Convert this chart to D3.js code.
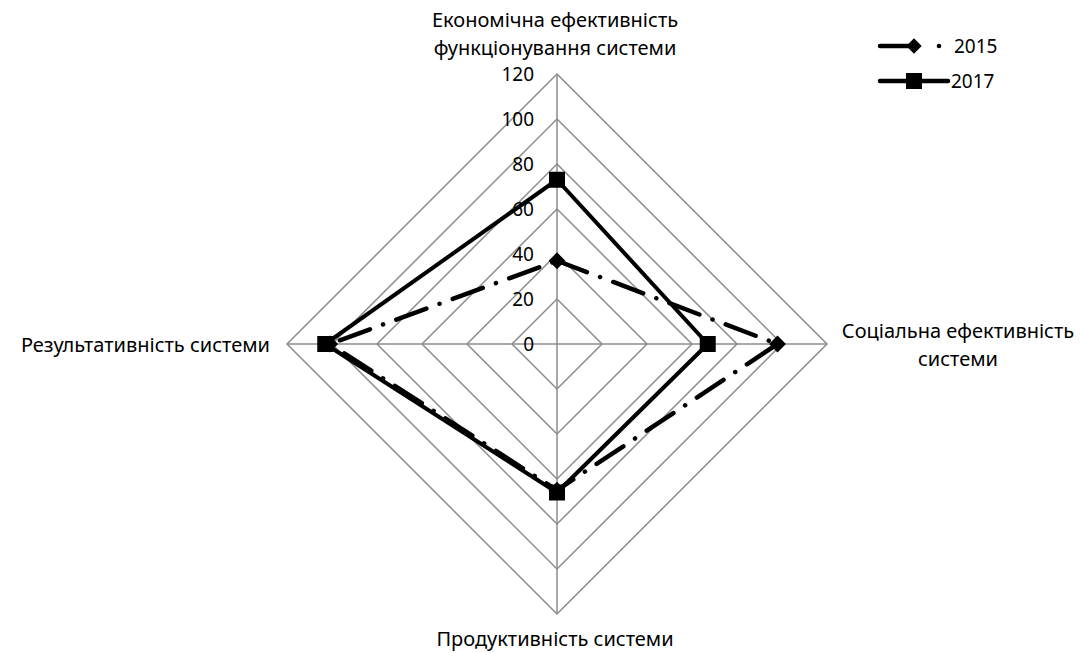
<!DOCTYPE html>
<html>
<head>
<meta charset="utf-8">
<script src="https://cdn.jsdelivr.net/npm/d3@7"></script>
<style>
  body { margin: 0; background: #fff; }
  text { font-family: "Noto Sans", "Open Sans", sans-serif; fill: #000; }
</style>
</head>
<body>
<div id="root"></div>
<script>
// axes of the radar, clockwise from the top
var axes = ["Економічна ефективність функціонування системи",
            "Соціальна ефективність системи",
            "Продуктивність системи",
            "Результативність системи"];
var series2015 = [37, 98, 65, 101];
var series2017 = [73, 67, 66, 103];
var ticks = [0, 20, 40, 60, 80, 100, 120];

var width = 1083, height = 653;
var cx = 557, cy = 344, radius = 270;

var svg = d3.select("#root").append("svg")
    .attr("width", width)
    .attr("height", height);

var r = d3.scaleLinear().domain([0, 120]).range([0, radius]);
var angle = d3.scaleLinear().domain([0, axes.length]).range([0, 2 * Math.PI]);

function pt(i, v) {
  var a = angle(i);
  return [cx + r(v) * Math.sin(a), cy - r(v) * Math.cos(a)];
}

var g = svg.append("g");

// grid rings
ticks.slice(1).forEach(function(t) {
  g.append("polygon")
    .attr("points", axes.map(function(d, i) { return pt(i, t).join(","); }).join(" "))
    .attr("fill", "none")
    .attr("stroke", "#8c8c8c")
    .attr("stroke-width", 1.5);
});

// spokes
axes.forEach(function(d, i) {
  var p = pt(i, 120);
  g.append("line")
    .attr("x1", cx).attr("y1", cy)
    .attr("x2", p[0]).attr("y2", p[1])
    .attr("stroke", "#8c8c8c")
    .attr("stroke-width", 1.5);
});

// tick labels
g.selectAll(".tick").data(ticks).enter().append("text")
  .attr("class", "tick")
  .attr("x", cx - 23)
  .attr("y", function(d) { return cy - r(d); })
  .attr("dy", "0.35em")
  .attr("text-anchor", "end")
  .style("font-size", "19px")
  .text(function(d) { return d; });

// axis labels
var labels = [
  {lines: ["Економічна ефективність", "функціонування системи"], x: 555, y: 20, anchor: "middle"},
  {lines: ["Соціальна ефективність", "системи"], x: 958, y: 331, anchor: "middle"},
  {lines: ["Продуктивність системи"], x: 555, y: 639, anchor: "middle"},
  {lines: ["Результативність системи"], x: 270, y: 345, anchor: "end"}
];
labels.forEach(function(l) {
  var t = svg.append("text")
    .attr("text-anchor", l.anchor)
    .style("font-size", "20px");
  l.lines.forEach(function(s, k) {
    t.append("tspan")
      .attr("x", l.x)
      .attr("y", l.y + k * 28)
      .attr("dy", "0.35em")
      .text(s);
  });
});

var line = d3.line().curve(d3.curveLinearClosed);

// 2015 series: long dash dot
svg.append("path")
  .attr("d", line(series2015.map(function(v, i) { return pt(i, v); })))
  .attr("fill", "none")
  .attr("stroke", "#000")
  .attr("stroke-width", 4.5)
  .attr("stroke-linecap", "round")
  .attr("stroke-dasharray", "32 14 0.1 14");

svg.selectAll(".m15").data(series2015).enter().append("path")
  .attr("class", "m15")
  .attr("transform", function(d, i) { return "translate(" + pt(i, d) + ")"; })
  .attr("d", d3.symbol().type(d3.symbolDiamond2).size(180))
  .attr("fill", "#000");

// 2017 series: solid
svg.append("path")
  .attr("d", line(series2017.map(function(v, i) { return pt(i, v); })))
  .attr("fill", "none")
  .attr("stroke", "#000")
  .attr("stroke-width", 4)
  .attr("stroke-linejoin", "round");

svg.selectAll(".m17").data(series2017).enter().append("rect")
  .attr("class", "m17")
  .attr("x", function(d, i) { return pt(i, d)[0] - 8; })
  .attr("y", function(d, i) { return pt(i, d)[1] - 8; })
  .attr("width", 16)
  .attr("height", 16)
  .attr("fill", "#000");

// legend
var legend = svg.append("g");
legend.append("line")
  .attr("x1", 880).attr("y1", 46).attr("x2", 914).attr("y2", 46)
  .attr("stroke", "#000").attr("stroke-width", 4.5).attr("stroke-linecap", "round");
legend.append("circle").attr("cx", 939).attr("cy", 46).attr("r", 2.3).attr("fill", "#000");
legend.append("path")
  .attr("transform", "translate(914,46)")
  .attr("d", d3.symbol().type(d3.symbolDiamond2).size(150))
  .attr("fill", "#000");
legend.append("text").attr("x", 954).attr("y", 46).attr("dy", "0.35em")
  .style("font-size", "19px").text("2015");

legend.append("line")
  .attr("x1", 880).attr("y1", 81).attr("x2", 948).attr("y2", 81)
  .attr("stroke", "#000").attr("stroke-width", 4.5).attr("stroke-linecap", "round");
legend.append("rect").attr("x", 906).attr("y", 73).attr("width", 16).attr("height", 16).attr("fill", "#000");
legend.append("text").attr("x", 951).attr("y", 81).attr("dy", "0.35em")
  .style("font-size", "19px").text("2017");
</script>
</body>
</html>
